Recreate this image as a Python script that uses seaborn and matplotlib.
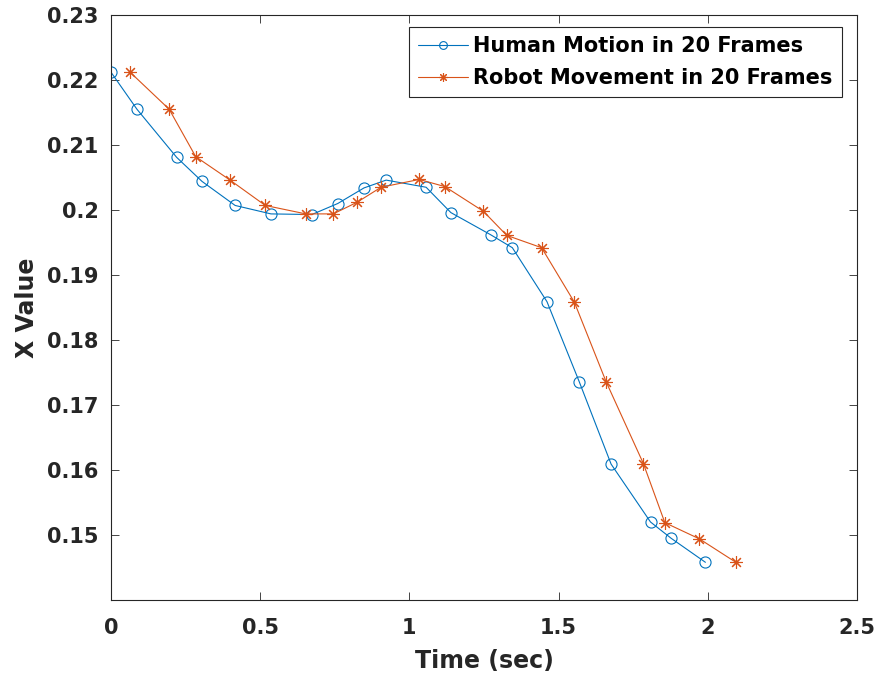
import numpy as np
import pandas as pd
import matplotlib
matplotlib.use("Agg")
import matplotlib.pyplot as plt
import seaborn as sns

# Data
human_time = [0.000, 0.087, 0.220, 0.305, 0.416, 0.536, 0.673, 0.760, 0.848, 0.922,
              1.056, 1.139, 1.272, 1.345, 1.461, 1.569, 1.676, 1.808, 1.877, 1.992]
human_x = [0.2212, 0.2155, 0.2081, 0.2044, 0.2007, 0.1994, 0.1993, 0.2010, 0.2034, 0.2046,
           0.2035, 0.1996, 0.1962, 0.1942, 0.1859, 0.1736, 0.1609, 0.1520, 0.1495, 0.1458]
robot_time = [0.064, 0.195, 0.284, 0.399, 0.517, 0.653, 0.745, 0.825, 0.905, 1.033,
              1.119, 1.248, 1.326, 1.443, 1.553, 1.659, 1.784, 1.856, 1.972, 2.094]
robot_x = [0.2212, 0.2155, 0.2082, 0.2046, 0.2007, 0.1994, 0.1994, 0.2012, 0.2035, 0.2047,
           0.2036, 0.1998, 0.1961, 0.1942, 0.1858, 0.1736, 0.1610, 0.1519, 0.1494, 0.1458]
labels = ["Human Motion in 20 Frames", "Robot Movement in 20 Frames"]
x_ticks = [0, 0.5, 1, 1.5, 2, 2.5]
x_tick_labels = ["0", "0.5", "1", "1.5", "2", "2.5"]
y_ticks = [0.15, 0.16, 0.17, 0.18, 0.19, 0.2, 0.21, 0.22, 0.23]
y_tick_labels = ["0.15", "0.16", "0.17", "0.18", "0.19", "0.2", "0.21", "0.22", "0.23"]

sns.set_theme(style="white")
plt.rcParams["font.family"] = ["DejaVu Sans"]
plt.rcParams["font.weight"] = "bold"

blue = "#0072BD"
orange = "#D95319"
axc = "#262626"

fig = plt.figure(figsize=(8.78, 6.85), dpi=100)
ax = fig.add_axes([111/878, 1 - 600/685, (857 - 111)/878, (600 - 15)/685])

df_h = pd.DataFrame({"t": human_time, "v": human_x})
df_r = pd.DataFrame({"t": robot_time, "v": robot_x})

sns.lineplot(data=df_h, x="t", y="v", ax=ax, color=blue, linewidth=0.8,
             marker="o", markersize=8, markerfacecolor="none",
             markeredgecolor=blue, markeredgewidth=0.8, label=labels[0])
sns.lineplot(data=df_r, x="t", y="v", ax=ax, color=orange, linewidth=0.8,
             marker=(8, 2, 0), markersize=9,
             markeredgecolor=orange, markeredgewidth=0.8, label=labels[1])

ax.set_xlim(0, 2.5)
ax.set_ylim(0.14, 0.23)
ax.set_xticks(x_ticks)
ax.set_xticklabels(x_tick_labels)
ax.set_yticks(y_ticks)
ax.set_yticklabels(y_tick_labels)

ax.tick_params(axis="both", which="both", direction="in", length=6, width=0.6,
               colors=axc, labelsize=15, top=True, right=True, bottom=True, left=True)
ax.tick_params(axis="x", pad=13)
ax.tick_params(axis="y", pad=9)
for lab in ax.get_xticklabels() + ax.get_yticklabels():
    lab.set_fontweight("bold")
for sp in ax.spines.values():
    sp.set_visible(True)
    sp.set_color(axc)
    sp.set_linewidth(0.8)

ax.set_xlabel("Time (sec)", fontsize=17, fontweight="bold", color=axc, labelpad=8)
ax.set_ylabel("X Value", fontsize=17, fontweight="bold", color=axc, labelpad=6)
ax.grid(False)

leg = ax.legend(loc="upper right", bbox_to_anchor=(0.98, 0.9795), borderaxespad=0,
                fontsize=15, frameon=True, fancybox=False, shadow=False, framealpha=1,
                edgecolor=axc, handlelength=2.4, borderpad=0.45, labelspacing=0.55,
                handletextpad=0.25, markerscale=0.7)
leg.get_frame().set_linewidth(0.8)
for t in leg.get_texts():
    t.set_fontweight("bold")
    t.set_color("black")

fig.savefig("out.png", dpi=100)
